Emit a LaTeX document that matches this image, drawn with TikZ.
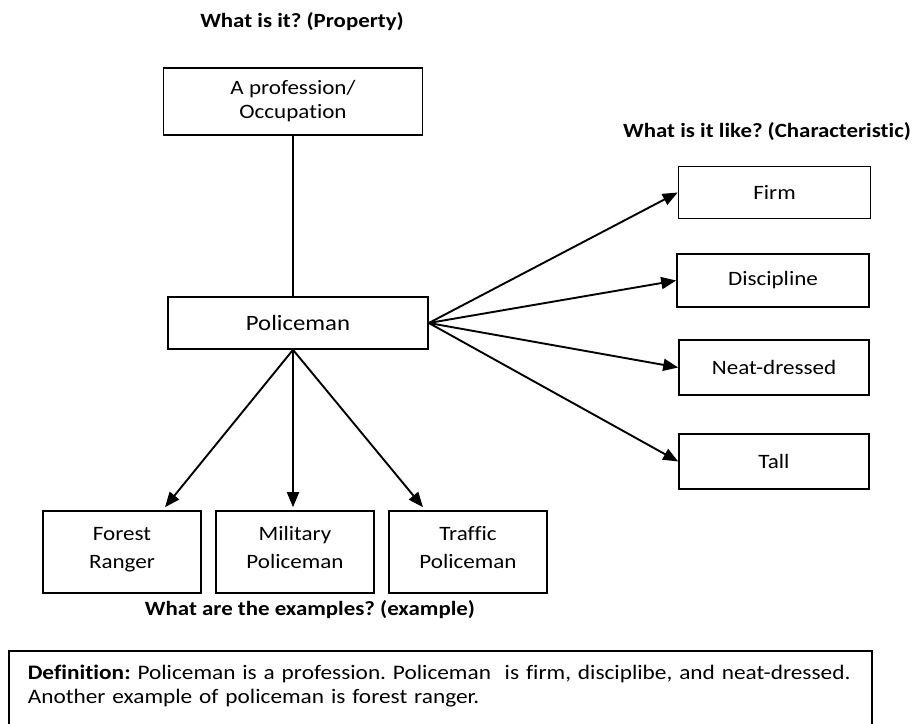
\documentclass[tikz,border=0pt]{standalone}
\usepackage{fontspec}
\setmainfont{Carlito}[FakeStretch=1.13, Ligatures=NoCommon]
\usepackage{tikz}
\usetikzlibrary{arrows.meta}
\frenchspacing

\begin{document}
\begin{tikzpicture}[
        x=1bp, y=-1bp,
        box/.style={rectangle, draw=black, line width=1.6bp, text centered, align=center, font=\fontsize{20.5}{24}\selectfont},
        trait/.style={box, minimum width=192bp, minimum height=52bp},
        example/.style={box, minimum width=158bp, minimum height=82bp, font=\fontsize{20.5}{28}\selectfont,
            execute at begin node=\strut, execute at end node=\strut},
        heading/.style={text centered, font=\fontsize{20.3}{24}\selectfont\bfseries},
        arr/.style={-{Triangle[length=15bp,width=12bp]}, line width=1.9bp}
    ]
        \useasboundingbox (0,0) rectangle (916,724);
        \clip (0,0) rectangle (916,724);

        % Property
        \node[heading] (prop_label) at (302, 22) {What is it? (Property)};
        \node[box, minimum width=259bp, minimum height=67bp] (profession) at (293, 101.5) {A profession/\\Occupation};

        % Concept
        \node[box, minimum width=260bp, minimum height=52bp, font=\fontsize{22}{26}\selectfont] (police) at (298, 323) {Policeman};

        % Characteristics
        \node[heading] (char_label) at (767, 132) {What is it like? (Characteristic)};
        \node[trait] (firm) at (774.5, 192.5) {Firm};
        \node[trait, minimum height=53bp] (discipline) at (773, 280.5) {Discipline};
        \node[trait, minimum height=55bp, minimum width=190bp] (neat) at (774, 367.5) {Neat-dressed};
        \node[trait, minimum height=55bp, minimum width=190bp] (tall) at (774, 461.5) {Tall};

        % Examples
        \node[example] (forest) at (122, 552) {Forest\\Ranger};
        \node[example] (military) at (295, 552) {Military\\Policeman};
        \node[example] (traffic) at (468, 552) {Traffic\\Policeman};
        \node[heading] (example_label) at (310, 610) {What are the examples? (example)};

        % Definition
        \node[draw=black, line width=1.6bp, anchor=north west, minimum width=863bp, inner xsep=19bp, inner ysep=14bp,
              text width=825bp, align=left, text depth=60bp, font=\fontsize{20.7}{24}\selectfont] (definition) at (8, 650)
              {\textbf{Definition:} Policeman is a profession. Policeman\ \ is firm, disciplibe, and neat-dressed.\\Another example of policeman is forest ranger.};

        % Connections
        \draw[line width=1.9bp] (profession.south) -- (profession.south |- police.north);
        \draw[arr] ([xshift=-5bp]police.south) -- ([xshift=43bp, yshift=3bp]forest.north);
        \draw[arr] ([xshift=-5bp]police.south) -- ([xshift=-2bp, yshift=3bp]military.north);
        \draw[arr] ([xshift=-5bp]police.south) -- ([xshift=-45bp, yshift=3bp]traffic.north);

        \draw[arr] (police.east) -- (firm.west);
        \draw[arr] (police.east) -- (discipline.west);
        \draw[arr] (police.east) -- (neat.west);
        \draw[arr] (police.east) -- (tall.west);

    \end{tikzpicture}
\end{document}
